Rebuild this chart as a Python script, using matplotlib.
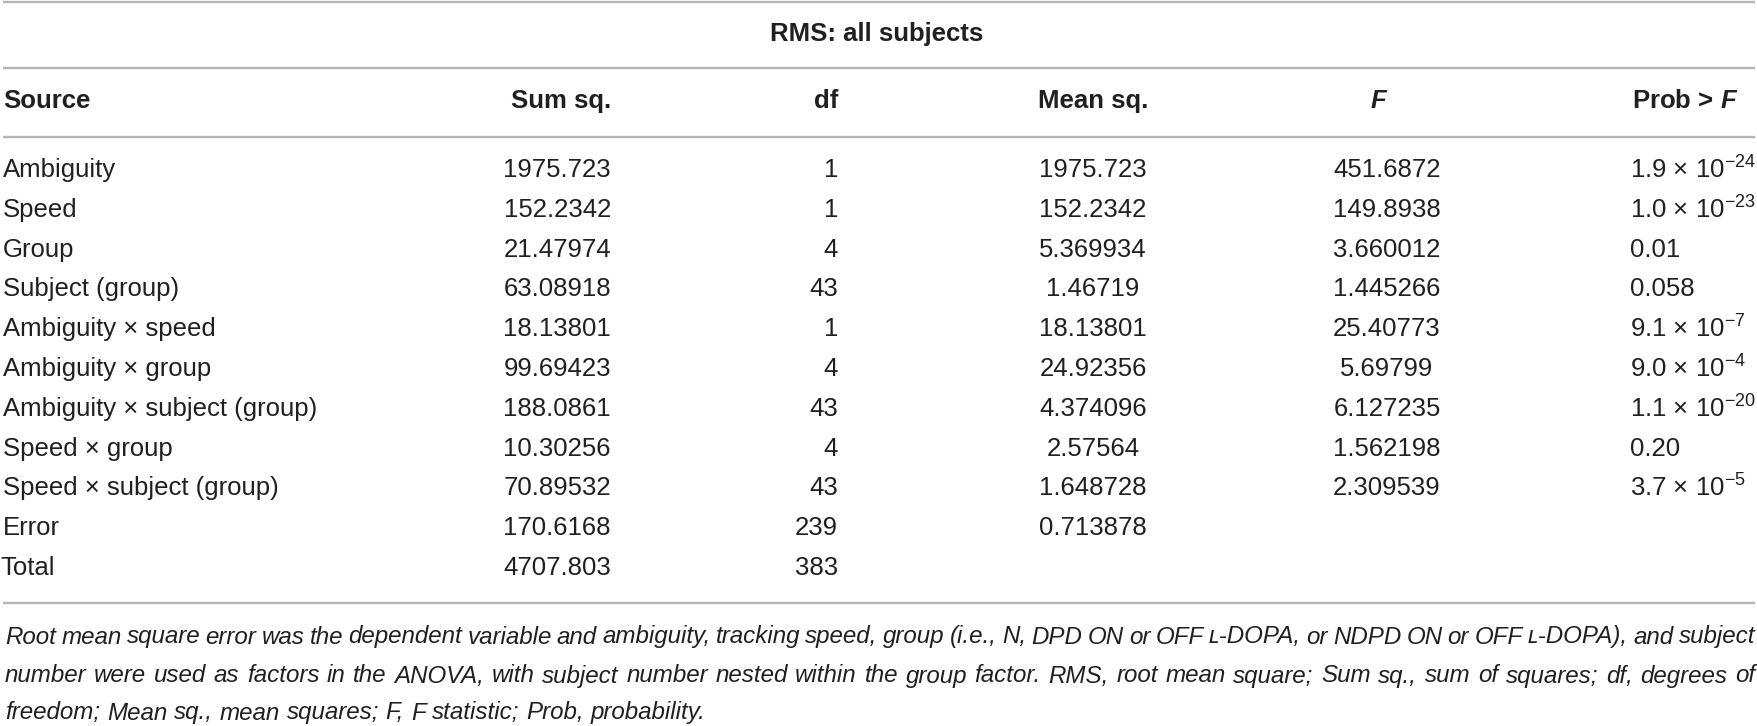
import matplotlib
matplotlib.use("Agg")
import matplotlib.pyplot as plt

plt.rcParams['font.family'] = ['Liberation Sans', 'DejaVu Sans']
plt.rcParams['mathtext.fontset'] = 'custom'
plt.rcParams['mathtext.rm'] = 'Liberation Sans'
plt.rcParams['mathtext.it'] = 'Liberation Sans:italic'
plt.rcParams['mathtext.bf'] = 'Liberation Sans:bold:italic'

# table content
title = "RMS: all subjects"
headers = ["Source", "Sum sq.", "df", "Mean sq.", "F", "Prob > F"]
sources = ["Ambiguity", "Speed", "Group", "Subject (group)", "Ambiguity \u00d7 speed",
           "Ambiguity \u00d7 group", "Ambiguity \u00d7 subject (group)", "Speed \u00d7 group",
           "Speed \u00d7 subject (group)", "Error", "Total"]
sum_sq = ["1975.723", "152.2342", "21.47974", "63.08918", "18.13801", "99.69423",
          "188.0861", "10.30256", "70.89532", "170.6168", "4707.803"]
df_vals = [1, 1, 4, 43, 1, 4, 43, 4, 43, 239, 383]
mean_sq = ["1975.723", "152.2342", "5.369934", "1.46719", "18.13801", "24.92356",
           "4.374096", "2.57564", "1.648728", "0.713878", ""]
f_vals = ["451.6872", "149.8938", "3.660012", "1.445266", "25.40773", "5.69799",
          "6.127235", "1.562198", "2.309539", "", ""]
prob = ["1.9e-24", "1.0e-23", "0.01", "0.058", "9.1e-7", "9.0e-4", "1.1e-20",
        "0.20", "3.7e-5", "", ""]
caption = [
    "Root mean square error was the dependent variable and ambiguity, tracking speed, "
    "group (i.e., N, DPD ON or OFF \u029f-DOPA, or NDPD ON or OFF \u029f-DOPA), and subject",
    "number were used as factors in the ANOVA, with subject number nested within the "
    "group factor. RMS, root mean square; Sum sq., sum of squares; df, degrees of",
    "freedom; Mean sq., mean squares; F, F statistic; Prob, probability.",
]

W, H = 1758, 726
fig = plt.figure(figsize=(W / 100, H / 100), dpi=100)
ax = fig.add_axes([0, 0, 1, 1])
ax.set_xlim(0, W)
ax.set_ylim(H, 0)
ax.axis('off')

ink = '#231f20'
rule = '#b5b5b5'
fs = 18.5

# horizontal rules
for yl in [1.5, 68, 137, 603]:
    ax.plot([3, 1755], [yl, yl], color=rule, lw=1.7, solid_capstyle='butt')

ax.text(877, 34, title, ha='center', va='center', fontsize=fs, fontweight='bold', color=ink)

# header row
hy = 101
ax.text(3, hy, headers[0], ha='left', va='center', fontsize=fs, fontweight='bold', color=ink)
ax.text(611, hy, headers[1], ha='right', va='center', fontsize=fs, fontweight='bold', color=ink)
ax.text(838, hy, headers[2], ha='right', va='center', fontsize=fs, fontweight='bold', color=ink)
ax.text(1093, hy, headers[3], ha='center', va='center', fontsize=fs, fontweight='bold', color=ink)
ax.text(1378, hy, headers[4], ha='center', va='center', fontsize=fs, fontweight='bold',
        fontstyle='italic', color=ink)
ax.text(1632, hy, "Prob > $\\mathbf{F}$", ha='left', va='center', fontsize=fs,
        fontweight='bold', color=ink)


def fmt_prob(s):
    if 'e' in s:
        mant, ex = s.split('e')
        return mant + " \u00d7 $10^{" + ex + "}$"
    return s


row0, step = 170, 39.8
for i, src in enumerate(sources):
    y = row0 + i * step
    ax.text(3 if src != "Total" else 0, y, src, ha='left', va='center', fontsize=fs, color=ink)
    ax.text(611, y, sum_sq[i], ha='right', va='center', fontsize=fs, color=ink)
    ax.text(838, y, str(df_vals[i]), ha='right', va='center', fontsize=fs, color=ink)
    if mean_sq[i]:
        ax.text(1093, y, mean_sq[i], ha='center', va='center', fontsize=fs, color=ink)
    if f_vals[i]:
        ax.text(1387, y, f_vals[i], ha='center', va='center', fontsize=fs, color=ink)
    if prob[i]:
        ax.text(1630, y, fmt_prob(prob[i]), ha='left', va='center', fontsize=fs, color=ink)

# justified italic caption
renderer = fig.canvas.get_renderer()
cap_fs = 17.4
cap_y = [637, 676, 713]
x0, x1 = 5, 1755
for k, line in enumerate(caption):
    words = line.split(' ')
    tx = [ax.text(0, cap_y[k], w, ha='left', va='center', fontsize=cap_fs,
                  fontstyle='italic', color=ink) for w in words]
    widths = [t.get_window_extent(renderer).width for t in tx]
    if k < len(caption) - 1:
        gap = (x1 - x0 - sum(widths)) / (len(words) - 1)
    else:
        gap = cap_fs * 100 / 72 * 0.278
    x = x0
    for t, w in zip(tx, widths):
        t.set_x(x)
        x += w + gap

fig.savefig("out.png", dpi=100)
